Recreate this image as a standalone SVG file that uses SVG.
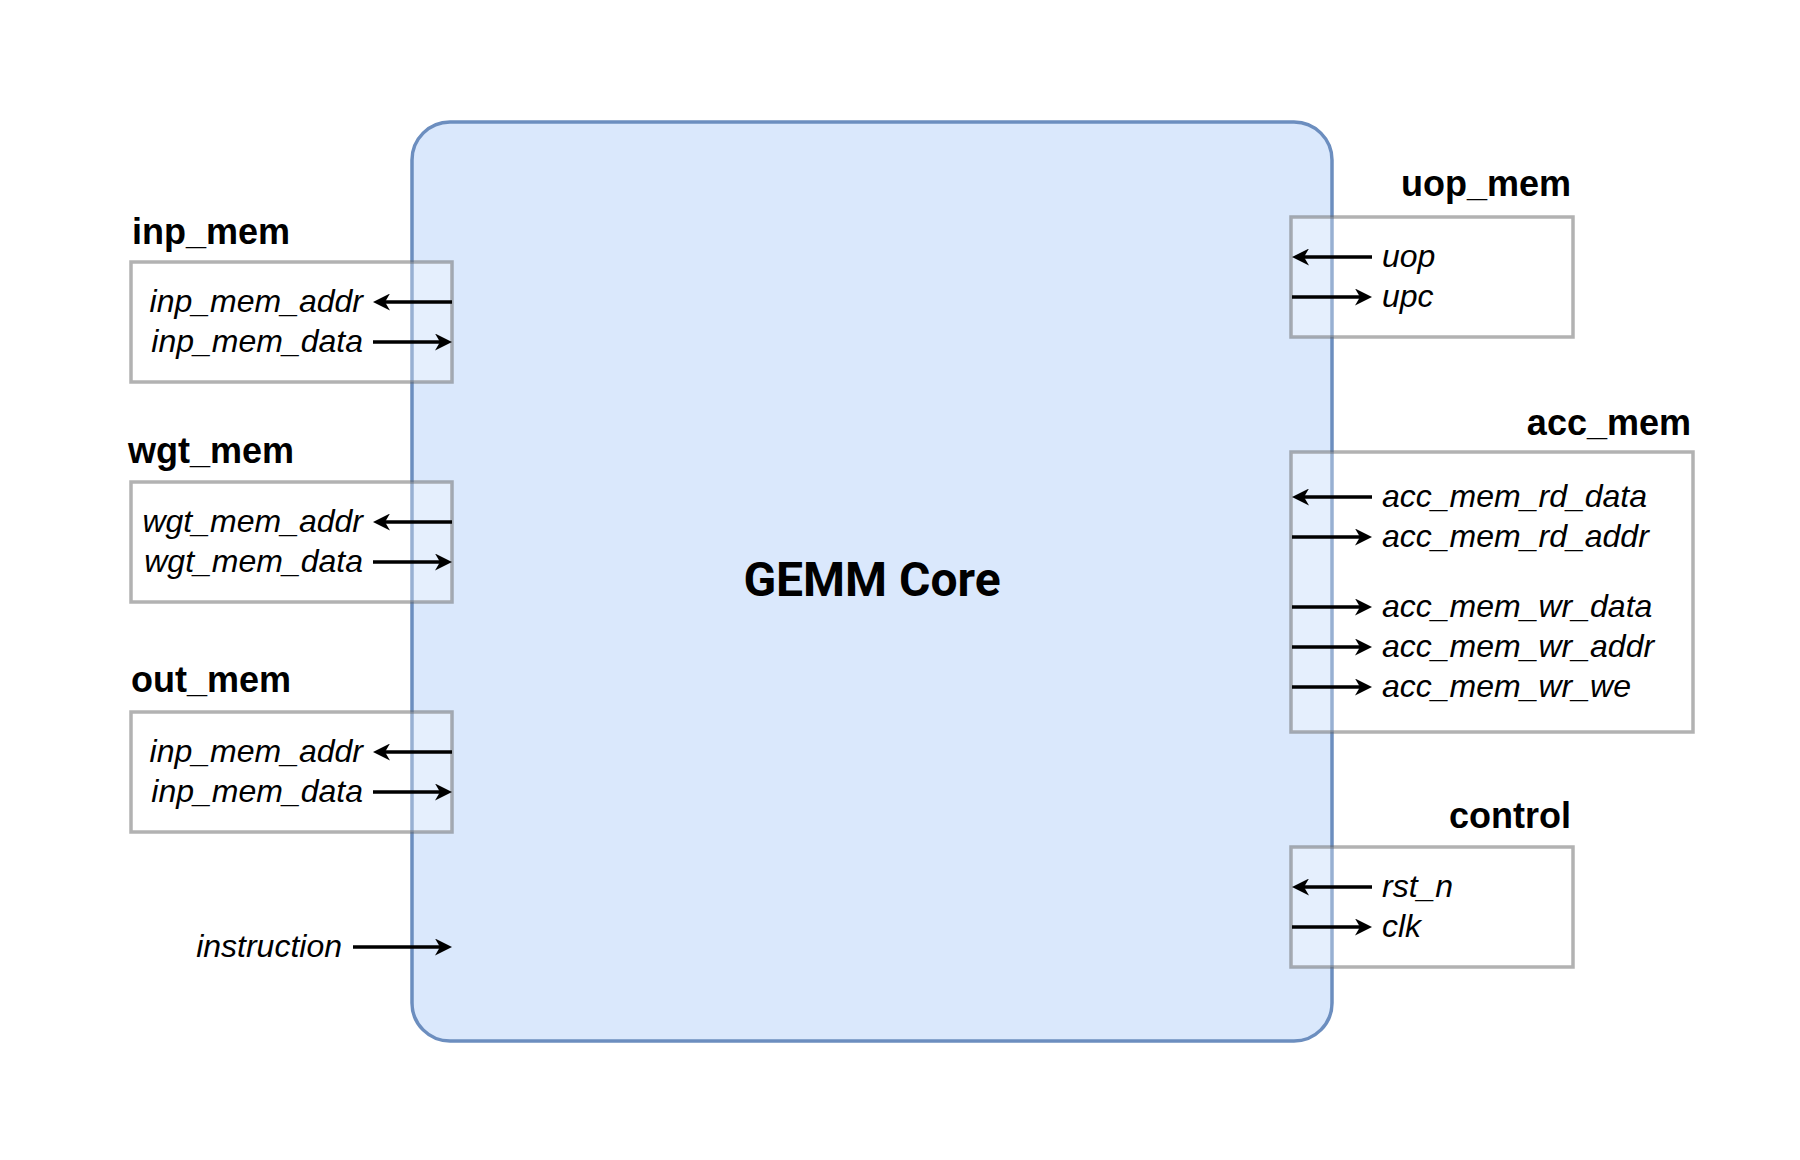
<svg xmlns="http://www.w3.org/2000/svg" width="1800" height="1160" viewBox="0 0 1800 1160">
<style>
.core{fill:#dae8fc;stroke:#6c8ebf;stroke-width:3.5}
.grp{fill:#ffffff;fill-opacity:0.3;stroke:#666666;stroke-opacity:0.5;stroke-width:3.5}
.title{font-family:"Liberation Sans",Arial,sans-serif;font-weight:bold;font-size:36px;fill:#000}
.sig{font-family:"Liberation Sans",Arial,sans-serif;font-style:italic;font-size:32px;fill:#000}
.core-label{font-family:Roboto,"Liberation Sans",sans-serif;font-weight:bold;font-size:48px;fill:#000}
.wire{stroke:#000;stroke-width:3.5;fill:none;marker-end:url(#arr)}
</style>
<defs>
<marker id="arr" markerUnits="userSpaceOnUse" viewBox="0 0 17 17" markerWidth="17" markerHeight="17" refX="5" refY="8.5" orient="auto">
<path d="M0,0 L17,8.5 L0,17 L5,8.5 Z" fill="#000"/>
</marker>
</defs>
<rect width="1800" height="1160" fill="#ffffff"/>
<g id="gemm_core">
<rect class="core" x="412" y="122" width="920" height="919" rx="38" ry="38"/>
<text class="core-label" x="872" y="596" text-anchor="middle">GEMM Core</text>
</g>
<g id="inp_mem">
<rect class="grp" x="131" y="262" width="321" height="120"/>
<text class="title" x="211" y="244" text-anchor="middle">inp_mem</text>
<text class="sig" x="363" y="311.5" text-anchor="end">inp_mem_addr</text>
<text class="sig" x="363" y="351.5" text-anchor="end">inp_mem_data</text>
</g>
<g id="wgt_mem">
<rect class="grp" x="131" y="482" width="321" height="120"/>
<text class="title" x="211" y="463" text-anchor="middle">wgt_mem</text>
<text class="sig" x="363" y="531.5" text-anchor="end">wgt_mem_addr</text>
<text class="sig" x="363" y="571.5" text-anchor="end">wgt_mem_data</text>
</g>
<g id="out_mem">
<rect class="grp" x="131" y="712" width="321" height="120"/>
<text class="title" x="211" y="692" text-anchor="middle">out_mem</text>
<text class="sig" x="363" y="761.5" text-anchor="end">inp_mem_addr</text>
<text class="sig" x="363" y="801.5" text-anchor="end">inp_mem_data</text>
</g>
<g id="instruction">
<text class="sig" x="342" y="956.5" text-anchor="end">instruction</text>
</g>
<g id="uop_mem">
<rect class="grp" x="1291" y="217" width="282" height="120"/>
<text class="title" x="1571" y="196" text-anchor="end">uop_mem</text>
<text class="sig" x="1382" y="266.5">uop</text>
<text class="sig" x="1382" y="306.5">upc</text>
</g>
<g id="acc_mem">
<rect class="grp" x="1291" y="452" width="402" height="280"/>
<text class="title" x="1691" y="435" text-anchor="end">acc_mem</text>
<text class="sig" x="1382" y="506.5">acc_mem_rd_data</text>
<text class="sig" x="1382" y="546.5">acc_mem_rd_addr</text>
<text class="sig" x="1382" y="616.5">acc_mem_wr_data</text>
<text class="sig" x="1382" y="656.5">acc_mem_wr_addr</text>
<text class="sig" x="1382" y="696.5">acc_mem_wr_we</text>
</g>
<g id="control">
<rect class="grp" x="1291" y="847" width="282" height="120"/>
<text class="title" x="1571" y="828" text-anchor="end">control</text>
<text class="sig" x="1382" y="896.5">rst_n</text>
<text class="sig" x="1382" y="936.5">clk</text>
</g>
<g id="connectors">
<line class="wire" x1="452" y1="302" x2="385" y2="302"/>
<line class="wire" x1="373" y1="342" x2="440" y2="342"/>
<line class="wire" x1="452" y1="522" x2="385" y2="522"/>
<line class="wire" x1="373" y1="562" x2="440" y2="562"/>
<line class="wire" x1="452" y1="752" x2="385" y2="752"/>
<line class="wire" x1="373" y1="792" x2="440" y2="792"/>
<line class="wire" x1="353" y1="947" x2="440" y2="947"/>
<line class="wire" x1="1372" y1="257" x2="1304" y2="257"/>
<line class="wire" x1="1292" y1="297" x2="1360" y2="297"/>
<line class="wire" x1="1372" y1="497" x2="1304" y2="497"/>
<line class="wire" x1="1292" y1="537" x2="1360" y2="537"/>
<line class="wire" x1="1292" y1="607" x2="1360" y2="607"/>
<line class="wire" x1="1292" y1="647" x2="1360" y2="647"/>
<line class="wire" x1="1292" y1="687" x2="1360" y2="687"/>
<line class="wire" x1="1372" y1="887" x2="1304" y2="887"/>
<line class="wire" x1="1292" y1="927" x2="1360" y2="927"/>
</g>
</svg>
